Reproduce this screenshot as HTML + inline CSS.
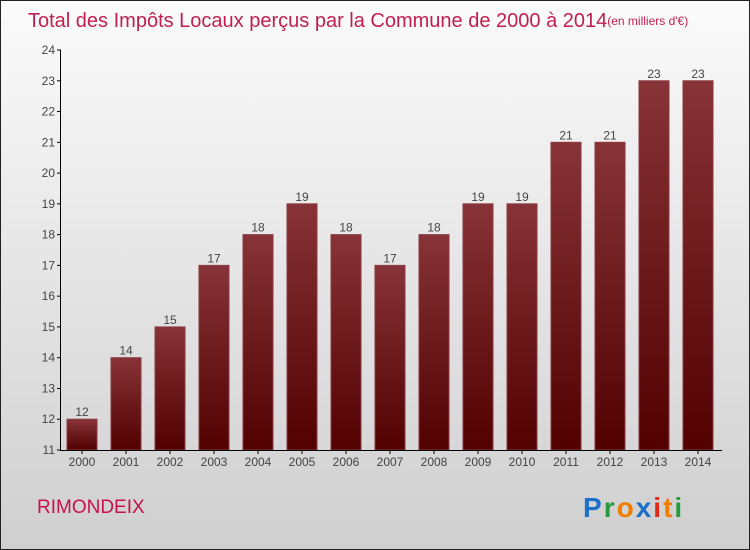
<!DOCTYPE html>
<html><head><meta charset="utf-8"><style>
body{margin:0;width:750px;height:550px;overflow:hidden;font-family:"Liberation Sans",sans-serif}
#wrap{position:absolute;left:0;top:0;width:748px;height:548px;border:1px solid #222;background:linear-gradient(#fbfbfb,#cfcfcf)}
</style></head><body>
<div id="wrap">
<svg id="c" width="750" height="550" style="position:absolute;left:-1px;top:-1px">
<defs><linearGradient id="g" x1="0" y1="0" x2="0" y2="1"><stop offset="0" stop-color="#873338"/><stop offset="1" stop-color="#520000"/></linearGradient></defs>
<text x="28" y="27" font-size="20" fill="#c02050">Total des Impôts Locaux perçus par la Commune de 2000 à 2014<tspan font-size="12" dy="-2">(en milliers d'€)</tspan></text>
<text x="37" y="513" font-size="19" fill="#c8104b">RIMONDEIX</text>
<g font-size="28" font-weight="bold" font-family="Liberation Sans, sans-serif" letter-spacing="2">
<text x="583" y="517"><tspan fill="#1a6fc8">P</tspan><tspan fill="#2a9b3c">r</tspan><tspan fill="#f07c00">o</tspan><tspan fill="#1a6fc8">x</tspan><tspan fill="#e3281c">i</tspan><tspan fill="#f07c00">t</tspan><tspan fill="#2a9b3c">i</tspan></text></g>
</svg>
</div>
<script>
const years=["2000","2001","2002","2003","2004","2005","2006","2007","2008","2009","2010","2011","2012","2013","2014"];
const values=[12,14,15,17,18,19,18,17,18,19,19,21,21,23,23];
const yTicks=[11,12,13,14,15,16,17,18,19,20,21,22,23,24];
const svg=document.getElementById('c');const NS='http://www.w3.org/2000/svg';
const y0=450,yMin=11,yMax=24,top0=50;
const Y=v=>y0-(v-yMin)*(y0-top0)/(yMax-yMin);
const X=i=>82+i*44;
function mk(t,a,p){const e=document.createElementNS(NS,t);for(const k in a)e.setAttribute(k,a[k]);(p||svg).appendChild(e);return e;}
yTicks.forEach(v=>{
 const t=mk('line',{x1:57,x2:61,y1:Y(v),y2:Y(v),stroke:'#000'});
 
 
 const l=mk('text',{x:55,y:Y(v)+4,'font-size':12,'text-anchor':'end',fill:'#444'});l.textContent=v;
 
 
});
values.forEach((v,i)=>{
 const r=mk('rect',{x:X(i)-15,y:Y(v),width:30,height:y0-Y(v),fill:'url(#g)',stroke:'#8a3a40','stroke-width':1});
 
 
 const l=mk('text',{x:X(i),y:Y(v)-3,'font-size':12,'text-anchor':'middle',fill:'#444'});l.textContent=v;
 
 
 const tk=mk('line',{x1:X(i),x2:X(i),y1:y0,y2:y0+4,stroke:'#000'});
 
 
 const xl=mk('text',{x:X(i),y:y0+16,'font-size':12,'text-anchor':'middle',fill:'#444'});xl.textContent=years[i];
 
 
});
const ya=mk('line',{x1:60.5,x2:60.5,y1:top0,y2:y0,stroke:'#000'});


const xa=mk('line',{x1:60,x2:722,y1:y0+0.5,y2:y0+0.5,stroke:'#000'});


</script>
</body></html>
